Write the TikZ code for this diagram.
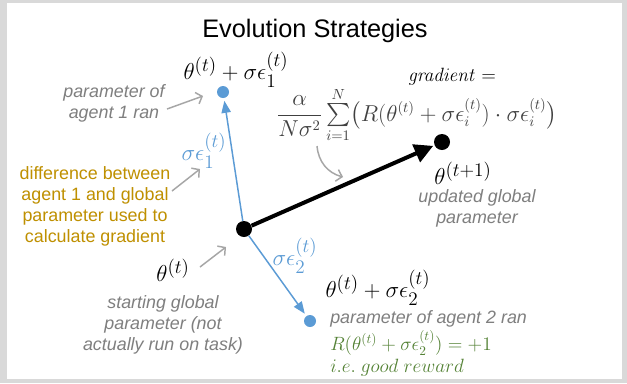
\documentclass[tikz,border=0pt]{standalone}
\usepackage{amsmath}
\usepackage[no-math]{fontspec}
\setmainfont{Liberation Sans}
\usepackage{xcolor}
\usetikzlibrary{arrows.meta}
\usetikzlibrary{math}
\definecolor{esblue}{RGB}{91,155,213}
\definecolor{esgold}{RGB}{191,144,0}
\definecolor{esgreen}{RGB}{84,130,53}
\definecolor{esgray}{RGB}{127,127,127}
\definecolor{eslight}{RGB}{166,166,166}
\definecolor{esframe}{RGB}{217,217,217}
\definecolor{esformula}{RGB}{64,64,64}

\begin{document}
\begin{tikzpicture}[x=0.75pt,y=-0.75pt,
  note/.style={color=esgray,font=\fontsize{13.4}{15.8}\selectfont\itshape,align=center,inner sep=0},
  mathlbl/.style={font=\fontsize{19}{22}\selectfont,inner sep=0},
  smallmath/.style={font=\fontsize{14}{17}\selectfont,inner sep=0},
  pointer/.style={color=eslight,line width=1.1pt,-{Straight Barb[length=4pt,width=9pt]}},
  blue arrow/.style={color=esblue,line width=1.1pt,-{Triangle[width=7pt,length=9pt]},shorten >=2pt},
  black arrow/.style={color=black,line width=3pt,-{Triangle[width=14pt,length=14pt]},shorten >=1pt},
]
\tikzmath{
\ra=9;
\rb=12;
}
%frame
\fill[esframe] (0,0) rectangle (627,383);
\fill[white] (7,3) rectangle (622,379);

\node[font=\fontsize{19}{23}\selectfont] (title) at (315,31) {Evolution Strategies};

%dots
\node[circle,fill=black,inner sep=0,minimum size=\rb pt] (start) at (244,229) {};
\node[circle,fill=black,inner sep=0,minimum size=\rb pt] (update) at (442,142) {};
\node[circle,fill=esblue,inner sep=0,minimum size=\ra pt] (agentA) at (223,92) {};
\node[circle,fill=esblue,inner sep=0,minimum size=\ra pt] (agentB) at (310,321) {};

%arrows
\draw[blue arrow] (start) -- (agentA);
\draw[blue arrow] (start) -- (agentB);
\draw[black arrow] (start) -- (update);

%labels
\node[mathlbl] (agentAval) at (236,70) {$\theta^{(t)}+\sigma\epsilon_1^{(t)}$};
\node[note] (agentAnote) at (114,103) {parameter of\\agent 1 ran};
\node[mathlbl,color=esblue] (epsA) at (204,151) {$\sigma\epsilon_1^{(t)}$};
\node[font=\fontsize{13.4}{15.8}\selectfont,color=esgold,align=center,inner sep=0] (diffnote) at (95,206)
  {difference between\\agent 1 and global\\parameter used to\\calculate gradient};
\node[mathlbl] (startval) at (173,270) {$\theta^{(t)}$};
\node[note] (startnote) at (163,325) {starting global\\parameter (not\\actually run on task)};
\node[mathlbl,color=esblue] (epsB) at (295,256) {$\sigma\epsilon_2^{(t)}$};
\node[mathlbl] (agentBval) at (378,288) {$\theta^{(t)}+\sigma\epsilon_2^{(t)}$};
\node[note,anchor=west] (agentBnote) at (330,319) {parameter of agent 2 ran};
\node[smallmath,color=esgreen,anchor=west] (reward) at (330,343) {$R(\theta^{(t)}+\sigma\epsilon_2^{(t)})=+1$};
\node[smallmath,color=esgreen,anchor=west] (goodnote) at (330,368) {$i.e.\ good\ reward$};
\node[smallmath,font=\fontsize{14.5}{17}\selectfont] (gradlbl) at (452,77) {$\mathit{gradient}=$};
\node[smallmath,color=esformula,font=\fontsize{16}{19}\selectfont] (gradval) at (417,115)
  {$\dfrac{\alpha}{N\sigma^2}\sum\limits_{i=1}^{N}\bigl(R(\theta^{(t)}+\sigma\epsilon_i^{(t)})\cdot\sigma\epsilon_i^{(t)}\bigr)$};
\node[mathlbl] (updateval) at (463,173) {$\theta^{(t+1)}$};
\node[note] (updatenote) at (477,208) {updated global\\parameter};

%pointers
\coordinate (pA1) at (167,109);
\coordinate (pA2) at (203,96);
\coordinate (pD1) at (172,191);
\coordinate (pD2) at (200,169);
\coordinate (pS1) at (200,267);
\coordinate (pS2) at (226,247);
\coordinate (pG1) at (317,146);
\coordinate (pG2) at (343,177);
\draw[pointer] (pA1) -- (pA2);
\draw[pointer] (pD1) -- (pD2);
\draw[pointer] (pS1) -- (pS2);
\draw[pointer] (pG1) to[bend right=35] (pG2);

\end{tikzpicture}
\end{document}
